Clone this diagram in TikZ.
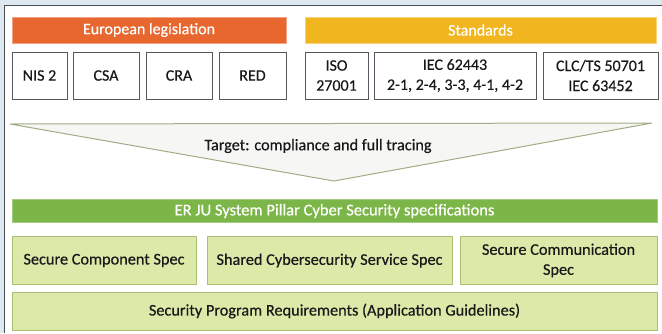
\documentclass[tikz,border=0pt]{standalone}
\usepackage{fontspec}
\setmainfont{Carlito}[FakeBold=0.4]
\definecolor{bgblue}{HTML}{DDE8F1}
\definecolor{frameline}{HTML}{4A4F55}
\definecolor{legor}{HTML}{E8672F}
\definecolor{stdyel}{HTML}{F1B51F}
\definecolor{pillar}{HTML}{7CB548}
\definecolor{specfill}{HTML}{DCE9A9}
\definecolor{specline}{HTML}{A9BF72}
\definecolor{tribord}{HTML}{9FAE86}
\definecolor{trifill}{HTML}{F6F6F4}
\definecolor{boxline}{HTML}{55585C}
\begin{document}
\begin{tikzpicture}[x=1pt,y=-1pt,
  header/.style={minimum height=26pt, inner sep=0pt, text=white, font=\fontsize{16}{18}\selectfont, draw=#1!60!white, line width=1pt, fill=#1},
  itembox/.style={draw=boxline, line width=0.9pt, fill=white, minimum height=47pt, inner sep=0pt, align=center, font=\fontsize{16}{20}\selectfont, text=black!90},
  specbox/.style={draw=specline, line width=1pt, fill=specfill, inner sep=0pt, align=center, font=\fontsize{16.3}{20}\selectfont, text=black!90},
]
\useasboundingbox (0,0) rectangle (662,333);
\fill[bgblue] (0,0) rectangle (662,333);
\fill[white] (4,5) rectangle (662,333);
\draw[frameline, line width=0.9pt] (4,333) -- (4,5) -- (662,5);
% headers
\node[header=legor, minimum width=274pt] (eu) at (149,30) {European legislation};
\node[header=stdyel, minimum width=351pt] (std) at (480.5,30) {Standards};
% item boxes
\node[itembox, minimum width=55pt] (nis) at (39.5,75.5) {NIS 2};
\node[itembox, minimum width=66pt] (csa) at (106,75.5) {CSA};
\node[itembox, minimum width=66pt] (cra) at (179,75.5) {CRA};
\node[itembox, minimum width=67pt] (red) at (252.5,75.5) {RED};
\node[itembox, minimum width=63pt] (iso) at (336.5,75.5) {ISO\\27001};
\node[itembox, minimum width=162pt] (iec) at (455,75.5) {IEC 62443\\2-1, 2-4, 3-3, 4-1, 4-2};
\node[itembox, minimum width=115pt] (clc) at (600.5,75.5) {CLC/TS 50701\\IEC 63452};
% funnel triangle
\coordinate (tl) at (10,124);
\coordinate (tr) at (652,123);
\coordinate (tb) at (334,181);
\draw[tribord, line width=1pt, fill=trifill] (tl) -- (tr) -- (tb) -- cycle;
\node[font=\fontsize{16.2}{18}\selectfont, text=black!90] (target) at (318,146) {Target: compliance and full tracing};
% pillar
\node[header=pillar, minimum width=645pt, minimum height=23pt, draw=pillar!70!white, font=\fontsize{16.5}{18}\selectfont] (pil) at (334.5,211) {ER JU System Pillar Cyber Security specifications};
% spec boxes
\node[specbox, minimum width=184pt, minimum height=48pt] (scs) at (104,260.5) {Secure Component Spec};
\node[specbox, minimum width=245pt, minimum height=48pt] (shs) at (329.5,260.5) {Shared Cybersecurity Service Spec};
\node[specbox, minimum width=197pt, minimum height=48pt] (scm) at (558.5,260.5) {Secure Communication\\Spec};
\node[specbox, minimum width=645pt, minimum height=38pt] (spr) at (334.5,311) {Security Program Requirements (Application Guidelines)};
\end{tikzpicture}
\end{document}
